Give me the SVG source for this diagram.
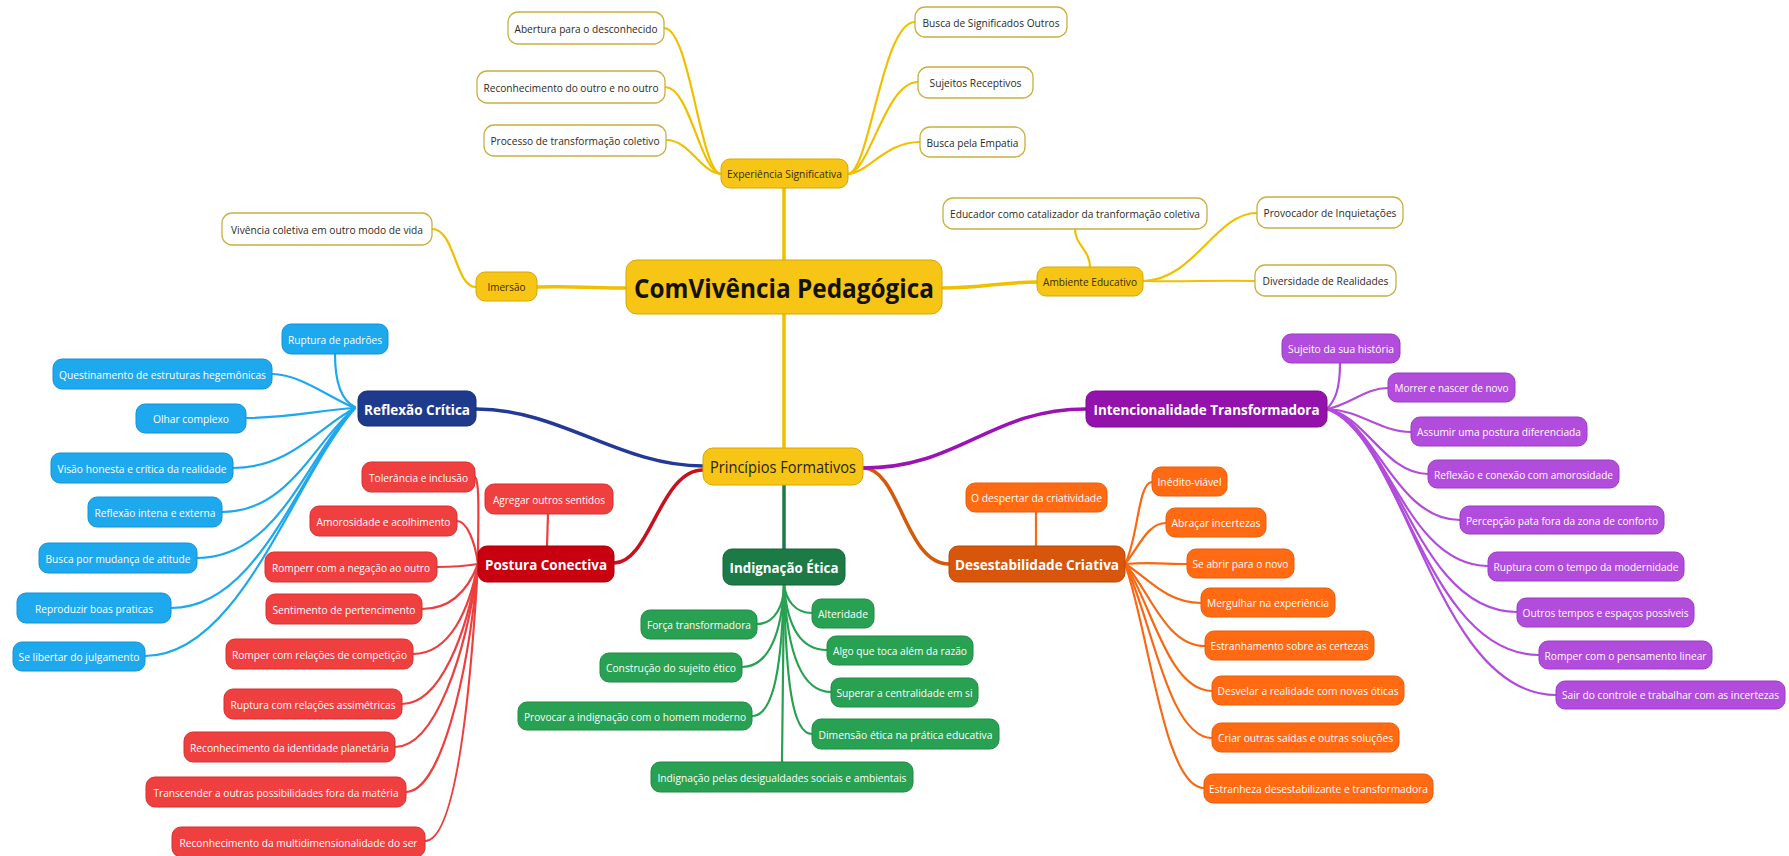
<svg xmlns="http://www.w3.org/2000/svg" width="1789" height="856" viewBox="0 0 1789 856">
<style>
text{font-family:"Open Sans","Noto Sans",sans-serif;text-anchor:middle;dominant-baseline:central;font-size:11.5px}
.w{fill:#fff;stroke:#C9B040;stroke-width:1.3}
.y{fill:#F6C515;stroke:#D6A800;stroke-width:1}
.bD{fill:#1E3A8C;stroke:#162C6E;stroke-width:1}
.b{fill:#1EA8EE;stroke:#1592D4;stroke-width:1}
.rD{fill:#C9000F;stroke:#A8000C;stroke-width:1}
.r{fill:#EF3F3F;stroke:#D83030;stroke-width:1}
.gD{fill:#1C7A46;stroke:#146238;stroke-width:1}
.g{fill:#29A152;stroke:#208A44;stroke-width:1}
.oD{fill:#D8560C;stroke:#B84608;stroke-width:1}
.o{fill:#FF6A12;stroke:#E85C0A;stroke-width:1}
.pD{fill:#9312AC;stroke:#790B8F;stroke-width:1}
.p{fill:#B24CDC;stroke:#9A3AC4;stroke-width:1}
.td{fill:#2e2a1e}
.ty{fill:#3a2e00;font-size:10.5px}
.tl{fill:#fff}
.ts{font-size:10.5px}
.tb{fill:#fff;font-size:15px;font-weight:700}
.tc{fill:#141108;font-size:27px;font-weight:700}
.tp{fill:#2b2300;font-size:16px;font-weight:500}
#connectors path{fill:none;stroke-linecap:round}
.cy{stroke:#F0C000;stroke-width:2.2}
.cb{stroke:#1EA8EE;stroke-width:2.2}
.cr{stroke:#EE3F3F;stroke-width:2.2}
.cg{stroke:#29A152;stroke-width:2.2}
.co{stroke:#F86812;stroke-width:2.2}
.cp{stroke:#B24CDC;stroke-width:2.2}
.m{stroke-width:3.5}
</style>
<g id="connectors">
<path class="cy m" d="M784,260 L784,188"/>
<path class="cy m" d="M784,314 L784,448"/>
<path class="cy m" d="M626,288 C600,288 570,286 537,287"/>
<path class="cy m" d="M942,288 C985,288 1000,282 1037,282"/>
<path class="cy" d="M721,174 C700,172 690,28 664,28"/>
<path class="cy" d="M721,174 C700,172 690,87 665,87"/>
<path class="cy" d="M721,174 C700,172 690,140 666,140"/>
<path class="cy" d="M848,174 C870,172 882,22 915,22"/>
<path class="cy" d="M848,174 C870,172 885,82 918,82"/>
<path class="cy" d="M848,174 C870,172 885,142 920,142"/>
<path class="cy" d="M476,287 C455,287 455,229 432,229"/>
<path class="cy" d="M1090,267 C1090,250 1075,245 1075,229"/>
<path class="cy" d="M1143,281 C1195,280 1215,213 1257,213"/>
<path class="cy" d="M1143,281 C1190,282 1210,280 1255,281"/>
<path class="m" stroke="#22399A" d="M703,466 C620,466 560,409 476,409"/>
<path class="m" stroke="#C8101E" d="M703,470 C660,470 650,563 614,563"/>
<path class="m" stroke="#1E7B4A" d="M784,485 L784,549"/>
<path class="m" stroke="#D45A0A" d="M863,468 C900,468 905,564 949,564"/>
<path class="m" stroke="#9B12B5" d="M863,468 C960,468 990,409 1086,409"/>
<path class="cb" d="M355,407 C340,400 335,380 335,354"/>
<path class="cb" d="M355,408 C330,398 300,374 272,374"/>
<path class="cb" d="M355,408 C320,410 290,418 246,418"/>
<path class="cb" d="M355,408 C320,426 290,468 233,468"/>
<path class="cb" d="M355,408 C315,440 290,512 222,512"/>
<path class="cb" d="M355,408 C308,453 280,558 197,558"/>
<path class="cb" d="M355,408 C300,468 260,608 171,608"/>
<path class="cb" d="M355,408 C292,482 240,656 145,656"/>
<path class="cr" d="M548,514 L547,546"/>
<path class="cr" d="M478,564 C478,520 480,482 475,477"/>
<path class="cr" d="M478,564 C475,542 467,521 457,521"/>
<path class="cr" d="M478,564 C472,565 457,567 437,567"/>
<path class="cr" d="M478,564 C470,585 455,609 422,609"/>
<path class="cr" d="M478,564 C469,610 450,654 413,654"/>
<path class="cr" d="M478,564 C467,634 440,704 402,704"/>
<path class="cr" d="M478,564 C466,655 435,747 395,747"/>
<path class="cr" d="M478,564 C468,680 440,792 406,792"/>
<path class="cr" d="M478,564 C470,702 455,841 425,841"/>
<path class="cg" d="M784,585 C784,605 775,624 757,624"/>
<path class="cg" d="M784,585 C782,630 770,667 742,667"/>
<path class="cg" d="M784,585 C782,660 775,716 752,716"/>
<path class="cg" d="M784,585 C786,600 795,613 812,613"/>
<path class="cg" d="M784,585 C787,625 800,650 827,650"/>
<path class="cg" d="M784,585 C787,650 800,692 831,692"/>
<path class="cg" d="M784,585 C786,680 792,734 812,734"/>
<path class="cg" d="M784,585 L782,762"/>
<path class="co" d="M1036,512 L1036,546"/>
<path class="co" d="M1125,564 C1138,540 1138,482 1152,482"/>
<path class="co" d="M1125,564 C1140,545 1148,523 1166,523"/>
<path class="co" d="M1125,564 C1150,562 1165,564 1187,564"/>
<path class="co" d="M1125,564 C1145,575 1165,603 1201,603"/>
<path class="co" d="M1125,564 C1149,589 1165,646 1205,646"/>
<path class="co" d="M1125,564 C1151,602 1168,691 1212,691"/>
<path class="co" d="M1125,564 C1151,616 1168,738 1212,738"/>
<path class="co" d="M1125,564 C1149,631 1164,788 1204,788"/>
<path class="cp" d="M1327,409 C1335,400 1340,390 1340,363"/>
<path class="cp" d="M1327,409 C1350,405 1365,388 1388,388"/>
<path class="cp" d="M1327,409 C1360,410 1380,432 1411,432"/>
<path class="cp" d="M1327,409 C1365,415 1385,474 1428,474"/>
<path class="cp" d="M1327,409 C1375,420 1395,520 1460,520"/>
<path class="cp" d="M1327,409 C1385,425 1405,566 1488,566"/>
<path class="cp" d="M1327,409 C1395,430 1415,612 1517,612"/>
<path class="cp" d="M1327,409 C1400,434 1425,655 1539,655"/>
<path class="cp" d="M1327,409 C1407,438 1435,695 1556,695"/>
</g>
<g id="n-abertura"><rect class="w" x="508" y="12" width="156" height="32" rx="10"/><text class="td" x="586" y="28" textLength="143" lengthAdjust="spacingAndGlyphs">Abertura para o desconhecido</text></g>
<g id="n-reconhecimento-outro"><rect class="w" x="477" y="71" width="188" height="32" rx="10"/><text class="td" x="571" y="87" textLength="175" lengthAdjust="spacingAndGlyphs">Reconhecimento do outro e no outro</text></g>
<g id="n-processo"><rect class="w" x="484" y="125" width="182" height="31" rx="10"/><text class="td" x="575" y="140.5" textLength="169" lengthAdjust="spacingAndGlyphs">Processo de transformação coletivo</text></g>
<g id="n-experiencia"><rect class="y" x="721" y="159" width="127" height="29" rx="9"/><text class="ty" x="784.5" y="173.5" textLength="115" lengthAdjust="spacingAndGlyphs">Experiência Significativa</text></g>
<g id="n-busca-significados"><rect class="w" x="915" y="7" width="152" height="30" rx="10"/><text class="td" x="991" y="22" textLength="137" lengthAdjust="spacingAndGlyphs">Busca de Significados Outros</text></g>
<g id="n-sujeitos-receptivos"><rect class="w" x="918" y="67" width="115" height="31" rx="10"/><text class="td" x="975.5" y="82.5" textLength="92" lengthAdjust="spacingAndGlyphs">Sujeitos Receptivos</text></g>
<g id="n-busca-empatia"><rect class="w" x="920" y="127" width="105" height="30" rx="10"/><text class="td" x="972.5" y="142" textLength="92" lengthAdjust="spacingAndGlyphs">Busca pela Empatia</text></g>
<g id="n-vivencia"><rect class="w" x="222" y="213" width="210" height="32" rx="10"/><text class="td" x="327" y="229" textLength="192" lengthAdjust="spacingAndGlyphs">Vivência coletiva em outro modo de vida</text></g>
<g id="n-imersao"><rect class="y" x="476" y="272" width="61" height="29" rx="9"/><text class="ty" x="506.5" y="286.5" textLength="38" lengthAdjust="spacingAndGlyphs">Imersão</text></g>
<g id="n-central"><rect class="y" x="626" y="260" width="316" height="54" rx="11" stroke="#D09E00"/><text class="tc" x="784" y="287" textLength="300" lengthAdjust="spacingAndGlyphs">ComVivência Pedagógica</text></g>
<g id="n-ambiente"><rect class="y" x="1037" y="267" width="106" height="29" rx="9"/><text class="ty" x="1090" y="281.5" textLength="94" lengthAdjust="spacingAndGlyphs">Ambiente Educativo</text></g>
<g id="n-educador"><rect class="w" x="943" y="198" width="264" height="31" rx="10"/><text class="td" x="1075" y="213.5" textLength="250" lengthAdjust="spacingAndGlyphs">Educador como catalizador da tranformação coletiva</text></g>
<g id="n-provocador"><rect class="w" x="1257" y="197" width="146" height="31" rx="10"/><text class="td" x="1330" y="212.5" textLength="133" lengthAdjust="spacingAndGlyphs">Provocador de Inquietações</text></g>
<g id="n-diversidade"><rect class="w" x="1255" y="265" width="141" height="31" rx="10"/><text class="td" x="1325.5" y="280.5" textLength="126" lengthAdjust="spacingAndGlyphs">Diversidade de Realidades</text></g>
<g id="n-principios"><rect class="y" x="703" y="448" width="160" height="37" rx="10"/><text class="tp" x="783" y="466.5" textLength="146" lengthAdjust="spacingAndGlyphs">Princípios Formativos</text></g>
<g id="n-reflexao-critica"><rect class="bD" x="358" y="391" width="118" height="35" rx="9"/><text class="tb" x="417" y="408.5" textLength="106" lengthAdjust="spacingAndGlyphs">Reflexão Crítica</text></g>
<g id="n-ruptura-padroes"><rect class="b" x="282" y="324" width="106" height="30" rx="9"/><text class="tl" x="335" y="339" textLength="94" lengthAdjust="spacingAndGlyphs">Ruptura de padrões</text></g>
<g id="n-questinamento"><rect class="b" x="53" y="359" width="219" height="30" rx="9"/><text class="tl" x="162.5" y="374" textLength="207" lengthAdjust="spacingAndGlyphs">Questinamento de estruturas hegemônicas</text></g>
<g id="n-olhar"><rect class="b" x="136" y="404" width="110" height="29" rx="9"/><text class="tl" x="191" y="418.5" textLength="76" lengthAdjust="spacingAndGlyphs">Olhar complexo</text></g>
<g id="n-visao"><rect class="b" x="51" y="453" width="182" height="30" rx="9"/><text class="tl" x="142" y="468" textLength="169" lengthAdjust="spacingAndGlyphs">Visão honesta e crítica da realidade</text></g>
<g id="n-reflexao-intena"><rect class="b" x="88" y="497" width="134" height="30" rx="9"/><text class="tl" x="155" y="512" textLength="121" lengthAdjust="spacingAndGlyphs">Reflexão intena e externa</text></g>
<g id="n-busca-mudanca"><rect class="b" x="39" y="543" width="158" height="30" rx="9"/><text class="tl" x="118" y="558" textLength="145" lengthAdjust="spacingAndGlyphs">Busca por mudança de atitude</text></g>
<g id="n-reproduzir"><rect class="b" x="17" y="593" width="154" height="30" rx="9"/><text class="tl" x="94" y="608" textLength="118" lengthAdjust="spacingAndGlyphs">Reproduzir boas praticas</text></g>
<g id="n-libertar"><rect class="b" x="13" y="642" width="132" height="29" rx="9"/><text class="tl" x="79" y="656.5" textLength="121" lengthAdjust="spacingAndGlyphs">Se libertar do julgamento</text></g>
<g id="n-postura"><rect class="rD" x="478" y="546" width="136" height="36" rx="9"/><text class="tb" x="546" y="564" textLength="122" lengthAdjust="spacingAndGlyphs">Postura Conectiva</text></g>
<g id="n-agregar"><rect class="r" x="485" y="484" width="128" height="30" rx="9"/><text class="tl" x="549" y="499" textLength="112" lengthAdjust="spacingAndGlyphs">Agregar outros sentidos</text></g>
<g id="n-tolerancia"><rect class="r" x="362" y="462" width="113" height="30" rx="9"/><text class="tl" x="418.5" y="477" textLength="99" lengthAdjust="spacingAndGlyphs">Tolerância e inclusão</text></g>
<g id="n-amorosidade"><rect class="r" x="310" y="506" width="147" height="30" rx="9"/><text class="tl" x="383.5" y="521" textLength="134" lengthAdjust="spacingAndGlyphs">Amorosidade e acolhimento</text></g>
<g id="n-romperr"><rect class="r" x="265" y="552" width="172" height="30" rx="9"/><text class="tl" x="351" y="567" textLength="158" lengthAdjust="spacingAndGlyphs">Romperr com a negação ao outro</text></g>
<g id="n-sentimento"><rect class="r" x="266" y="594" width="156" height="30" rx="9"/><text class="tl" x="344" y="609" textLength="143" lengthAdjust="spacingAndGlyphs">Sentimento de pertencimento</text></g>
<g id="n-competicao"><rect class="r" x="226" y="639" width="187" height="30" rx="9"/><text class="tl" x="319.5" y="654" textLength="175" lengthAdjust="spacingAndGlyphs">Romper com relações de competição</text></g>
<g id="n-assimetricas"><rect class="r" x="224" y="689" width="178" height="30" rx="9"/><text class="tl" x="313" y="704" textLength="165" lengthAdjust="spacingAndGlyphs">Ruptura com relações assimétricas</text></g>
<g id="n-planetaria"><rect class="r" x="184" y="732" width="211" height="30" rx="9"/><text class="tl" x="289.5" y="747" textLength="199" lengthAdjust="spacingAndGlyphs">Reconhecimento da identidade planetária</text></g>
<g id="n-transcender"><rect class="r" x="146" y="777" width="260" height="30" rx="9"/><text class="tl" x="276" y="792" textLength="245" lengthAdjust="spacingAndGlyphs">Transcender a outras possibilidades fora da matéria</text></g>
<g id="n-multidimensionalidade"><rect class="r" x="172" y="827" width="253" height="30" rx="9"/><text class="tl" x="298.5" y="842" textLength="238" lengthAdjust="spacingAndGlyphs">Reconhecimento da multidimensionalidade do ser</text></g>
<g id="n-indignacao"><rect class="gD" x="723" y="549" width="122" height="36" rx="9"/><text class="tb" x="784" y="567" textLength="109" lengthAdjust="spacingAndGlyphs">Indignação Ética</text></g>
<g id="n-forca"><rect class="g" x="641" y="610" width="116" height="29" rx="9"/><text class="tl" x="699" y="624.5" textLength="104" lengthAdjust="spacingAndGlyphs">Força transformadora</text></g>
<g id="n-construcao"><rect class="g" x="600" y="653" width="142" height="29" rx="9"/><text class="tl" x="671" y="667.5" textLength="130" lengthAdjust="spacingAndGlyphs">Construção do sujeito ético</text></g>
<g id="n-provocar"><rect class="g" x="518" y="702" width="234" height="28" rx="9"/><text class="tl" x="635" y="716" textLength="222" lengthAdjust="spacingAndGlyphs">Provocar a indignação com o homem moderno</text></g>
<g id="n-desigualdades"><rect class="g" x="651" y="762" width="262" height="30" rx="9"/><text class="tl" x="782" y="777" textLength="249" lengthAdjust="spacingAndGlyphs">Indignação pelas desigualdades sociais e ambientais</text></g>
<g id="n-alteridade"><rect class="g" x="812" y="599" width="62" height="29" rx="9"/><text class="tl" x="843" y="613.5" textLength="50" lengthAdjust="spacingAndGlyphs">Alteridade</text></g>
<g id="n-algo"><rect class="g" x="827" y="636" width="146" height="29" rx="9"/><text class="tl" x="900" y="650.5" textLength="134" lengthAdjust="spacingAndGlyphs">Algo que toca além da razão</text></g>
<g id="n-superar"><rect class="g" x="831" y="678" width="147" height="29" rx="9"/><text class="tl" x="904.5" y="692.5" textLength="136" lengthAdjust="spacingAndGlyphs">Superar a centralidade em si</text></g>
<g id="n-dimensao"><rect class="g" x="812" y="719" width="187" height="30" rx="9"/><text class="tl" x="905.5" y="734" textLength="174" lengthAdjust="spacingAndGlyphs">Dimensão ética na prática educativa</text></g>
<g id="n-desestabilidade"><rect class="oD" x="949" y="546" width="176" height="36" rx="9"/><text class="tb" x="1037" y="564" textLength="164" lengthAdjust="spacingAndGlyphs">Desestabilidade Criativa</text></g>
<g id="n-despertar"><rect class="o" x="966" y="483" width="141" height="29" rx="9"/><text class="tl" x="1036.5" y="497.5" textLength="131" lengthAdjust="spacingAndGlyphs">O despertar da criatividade</text></g>
<g id="n-inedito"><rect class="o" x="1152" y="467" width="75" height="29" rx="9"/><text class="tl" x="1189.5" y="481.5" textLength="64" lengthAdjust="spacingAndGlyphs">Inédito-viável</text></g>
<g id="n-abracar"><rect class="o" x="1166" y="508" width="100" height="29" rx="9"/><text class="tl" x="1216" y="522.5" textLength="89" lengthAdjust="spacingAndGlyphs">Abraçar incertezas</text></g>
<g id="n-se-abrir"><rect class="o" x="1187" y="549" width="107" height="29" rx="9"/><text class="tl" x="1240.5" y="563.5" textLength="96" lengthAdjust="spacingAndGlyphs">Se abrir para o novo</text></g>
<g id="n-mergulhar"><rect class="o" x="1201" y="588" width="134" height="29" rx="9"/><text class="tl" x="1268" y="602.5" textLength="122" lengthAdjust="spacingAndGlyphs">Mergulhar na experiência</text></g>
<g id="n-estranhamento"><rect class="o" x="1205" y="631" width="169" height="29" rx="9"/><text class="tl" x="1289.5" y="645.5" textLength="158" lengthAdjust="spacingAndGlyphs">Estranhamento sobre as certezas</text></g>
<g id="n-desvelar"><rect class="o" x="1212" y="676" width="192" height="29" rx="9"/><text class="tl" x="1308" y="690.5" textLength="181" lengthAdjust="spacingAndGlyphs">Desvelar a realidade com novas óticas</text></g>
<g id="n-criar"><rect class="o" x="1212" y="723" width="187" height="29" rx="9"/><text class="tl" x="1305.5" y="737.5" textLength="175" lengthAdjust="spacingAndGlyphs">Criar outras saídas e outras soluções</text></g>
<g id="n-estranheza"><rect class="o" x="1204" y="774" width="229" height="29" rx="9"/><text class="tl" x="1318.5" y="788.5" textLength="219" lengthAdjust="spacingAndGlyphs">Estranheza desestabilizante e transformadora</text></g>
<g id="n-intencionalidade"><rect class="pD" x="1086" y="391" width="241" height="36" rx="9"/><text class="tb" x="1206.5" y="409" textLength="226" lengthAdjust="spacingAndGlyphs">Intencionalidade Transformadora</text></g>
<g id="n-sujeito-historia"><rect class="p" x="1282" y="334" width="118" height="29" rx="9"/><text class="tl" x="1341" y="348.5" textLength="106" lengthAdjust="spacingAndGlyphs">Sujeito da sua história</text></g>
<g id="n-morrer"><rect class="p" x="1388" y="373" width="127" height="29" rx="9"/><text class="tl" x="1451.5" y="387.5" textLength="114" lengthAdjust="spacingAndGlyphs">Morrer e nascer de novo</text></g>
<g id="n-assumir"><rect class="p" x="1411" y="417" width="176" height="29" rx="9"/><text class="tl" x="1499" y="431.5" textLength="164" lengthAdjust="spacingAndGlyphs">Assumir uma postura diferenciada</text></g>
<g id="n-reflexao-conexao"><rect class="p" x="1428" y="460" width="191" height="28" rx="9"/><text class="tl" x="1523.5" y="474" textLength="179" lengthAdjust="spacingAndGlyphs">Reflexão e conexão com amorosidade</text></g>
<g id="n-percepcao"><rect class="p" x="1460" y="506" width="204" height="28" rx="9"/><text class="tl" x="1562" y="520" textLength="192" lengthAdjust="spacingAndGlyphs">Percepção pata fora da zona de conforto</text></g>
<g id="n-ruptura-tempo"><rect class="p" x="1488" y="552" width="196" height="29" rx="9"/><text class="tl" x="1586" y="566.5" textLength="185" lengthAdjust="spacingAndGlyphs">Ruptura com o tempo da modernidade</text></g>
<g id="n-outros-tempos"><rect class="p" x="1517" y="598" width="177" height="29" rx="9"/><text class="tl" x="1605.5" y="612.5" textLength="166" lengthAdjust="spacingAndGlyphs">Outros tempos e espaços possíveis</text></g>
<g id="n-romper-linear"><rect class="p" x="1539" y="641" width="173" height="28" rx="9"/><text class="tl" x="1625.5" y="655" textLength="162" lengthAdjust="spacingAndGlyphs">Romper com o pensamento linear</text></g>
<g id="n-sair-controle"><rect class="p" x="1556" y="681" width="229" height="28" rx="9"/><text class="tl ts" x="1670.5" y="695" textLength="217" lengthAdjust="spacingAndGlyphs">Sair do controle e trabalhar com as incertezas</text></g>
</svg>
